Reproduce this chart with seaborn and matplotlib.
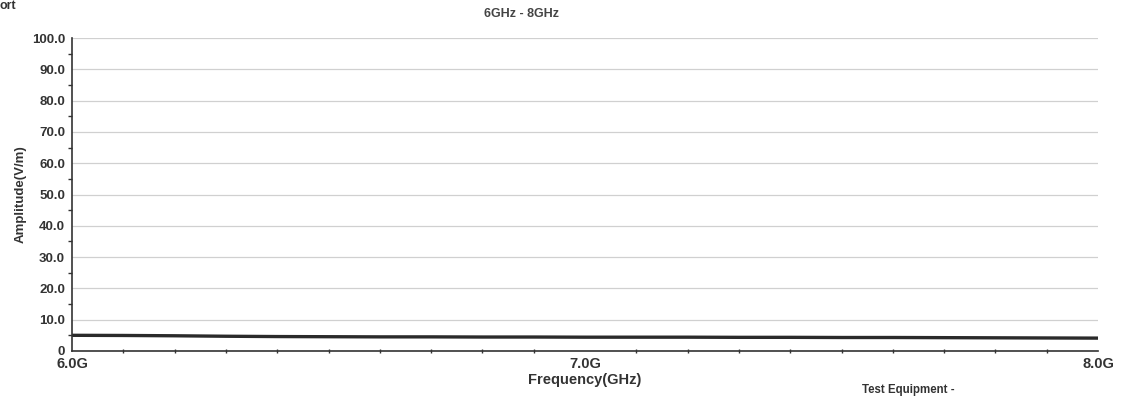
import matplotlib
matplotlib.use("Agg")
import matplotlib.pyplot as plt
import seaborn as sns
import pandas as pd
from matplotlib.ticker import MultipleLocator, FixedLocator

sns.set_theme(style="white")
plt.rcParams['font.family'] = ['Liberation Sans', 'DejaVu Sans']

freq_ghz = [6.0, 6.1, 6.2, 6.3, 6.4, 6.5, 6.6, 6.7, 6.8, 6.9, 7.0,
            7.1, 7.2, 7.3, 7.4, 7.5, 7.6, 7.7, 7.8, 7.9, 8.0]
amplitude = [5.0, 4.95, 4.85, 4.7, 4.6, 4.55, 4.5, 4.5, 4.45, 4.45, 4.4,
             4.4, 4.4, 4.35, 4.35, 4.3, 4.3, 4.25, 4.2, 4.15, 4.1]
x_tick_vals = [6.0, 7.0, 8.0]
x_tick_labels = ["6.0G", "7.0G", "8.0G"]
y_tick_vals = [0, 10, 20, 30, 40, 50, 60, 70, 80, 90, 100]
y_tick_labels = ["0", "10.0", "20.0", "30.0", "40.0", "50.0", "60.0", "70.0", "80.0", "90.0", "100.0"]

df = pd.DataFrame({"Frequency": freq_ghz, "Amplitude": amplitude})

fig = plt.figure(figsize=(11.25, 3.97), dpi=100)
ax = fig.add_axes([0.064, 0.116, 0.912, 0.788])

sns.lineplot(data=df, x="Frequency", y="Amplitude", ax=ax, color="#2a2a2a", linewidth=2.4)

ax.set_xlim(6.0, 8.0)
ax.set_ylim(0, 100)
ax.yaxis.set_major_locator(FixedLocator(y_tick_vals))
ax.set_yticklabels(y_tick_labels, fontsize=9.5, fontweight="bold", color="#333333")
ax.yaxis.set_minor_locator(MultipleLocator(5))
ax.xaxis.set_major_locator(FixedLocator(x_tick_vals))
ax.set_xticklabels(x_tick_labels, fontsize=10.5, fontweight="bold", color="#333333")
ax.xaxis.set_minor_locator(MultipleLocator(0.1))

ax.grid(axis="y", which="major", color="#d0d0d0", linewidth=0.9)
ax.grid(axis="x", visible=False)
for s in ["top", "right"]:
    ax.spines[s].set_visible(False)
for s in ["left", "bottom"]:
    ax.spines[s].set_color("#333333")
    ax.spines[s].set_linewidth(1.2)

ax.tick_params(axis="y", which="major", direction="out", length=4, width=1, color="#333333", pad=1)
ax.tick_params(axis="y", which="minor", direction="out", length=3, width=1, color="#333333", left=True)
ax.tick_params(axis="x", which="major", direction="inout", length=8, width=1, color="#333333", pad=0)
ax.tick_params(axis="x", which="minor", direction="inout", length=3, width=1, color="#333333", bottom=True)

ax.set_xlabel("Frequency(GHz)", fontsize=10.5, fontweight="bold", color="#333333", labelpad=2)
ax.set_ylabel("Amplitude(V/m)", fontsize=9.5, fontweight="bold", color="#333333", labelpad=4)

fig.text(0.464, 0.965, "6GHz - 8GHz", fontsize=9, fontweight="bold", color="#444444",
         ha="center", va="center")
fig.text(0.0, 0.985, "ort", fontsize=9, fontweight="bold", color="#333333", va="center")
fig.text(0.766, 0.003, "Test Equipment -", fontsize=8.3, fontweight="bold", color="#333333", va="bottom")

fig.savefig("out.png", dpi=100, facecolor="white")
